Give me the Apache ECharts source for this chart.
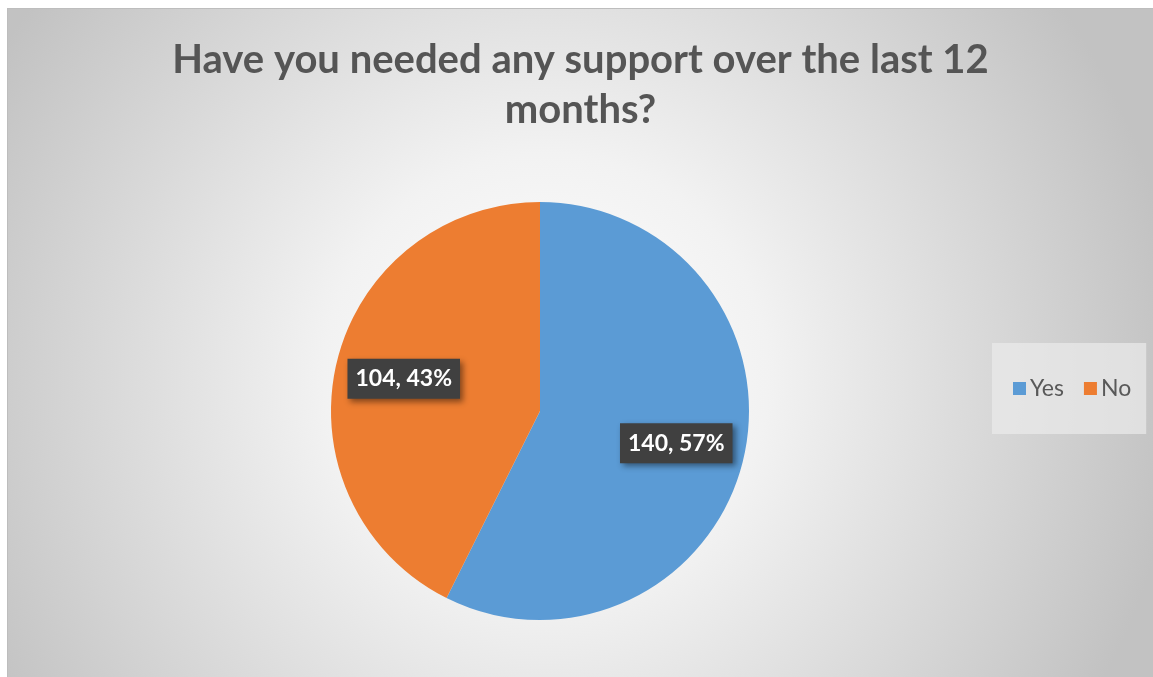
<!DOCTYPE html>
<html>
<head>
<meta charset="utf-8">
<script src="https://cdn.jsdelivr.net/npm/echarts@6/dist/echarts.min.js"></script>
<style>
  html, body { margin: 0; padding: 0; background: #fff; }
  #chart {
    position: absolute; left: 7px; top: 8px; right: 0; bottom: 0;
    border-left: 1px solid #bdbdbd; border-top: 1px solid #bdbdbd;
  }
</style>
</head>
<body>
<div id="chart"></div>
<script>
  var titleText = 'Have you needed any support over the last 12\nmonths?';
  var categories = ['Yes', 'No'];
  var values = [140, 104];
  var colors = ['#5b9bd5', '#ed7d31'];

  var pieData = categories.map(function (name, i) {
    return { name: name, value: values[i], itemStyle: { color: colors[i] } };
  });
  var labelData = categories.map(function (name, i) {
    return { name: name, value: values[i] };
  });

  var chart = echarts.init(document.getElementById('chart'));
  chart.setOption({
    animation: false,
    backgroundColor: {
      type: 'radial', x: 0.47, y: 0.55, r: 0.95,
      colorStops: [
        { offset: 0, color: '#ffffff' },
        { offset: 0.35, color: '#f2f2f2' },
        { offset: 1, color: '#c2c2c2' }
      ]
    },
    title: {
      text: titleText,
      left: 'center',
      top: 21,
      padding: [5, 5, 5, 15],
      textStyle: {
        fontFamily: 'Lato', fontWeight: 'bold', fontSize: 40,
        lineHeight: 50, color: '#555555'
      }
    },
    legend: {
      data: categories,
      orient: 'horizontal',
      left: 984, top: 334,
      padding: [34, 15, 34, 21],
      backgroundColor: 'rgba(235,235,235,0.7)',
      itemWidth: 13, itemHeight: 13, itemGap: 20,
      icon: 'rect',
      textStyle: { fontFamily: 'Lato', fontSize: 23, color: '#595959', padding: [0, 0, 0, -1] }
    },
    series: [
      {
        type: 'pie',
        center: [532, 402],
        radius: [0, 209],
        startAngle: 90,
        clockwise: true,
        label: { show: false },
        labelLine: { show: false },
        data: pieData
      },
      {
        type: 'pie',
        center: [532, 402],
        radius: [65, 209],
        startAngle: 90,
        clockwise: true,
        silent: true,
        percentPrecision: 0,
        itemStyle: { color: 'rgba(0,0,0,0)' },
        labelLine: { show: false },
        label: {
          show: true,
          position: 'inside',
          formatter: '{c}, {d}%',
          color: '#ffffff',
          fontFamily: 'Lato', fontWeight: 'bold', fontSize: 23, lineHeight: 26,
          backgroundColor: '#404040',
          padding: [7, 8, 7, 8],
          shadowColor: 'rgba(0,0,0,0.45)',
          shadowBlur: 6,
          shadowOffsetX: 3,
          shadowOffsetY: 3
        },
        emphasis: { disabled: true },
        data: labelData
      }
    ]
  });
</script>
</body>
</html>
